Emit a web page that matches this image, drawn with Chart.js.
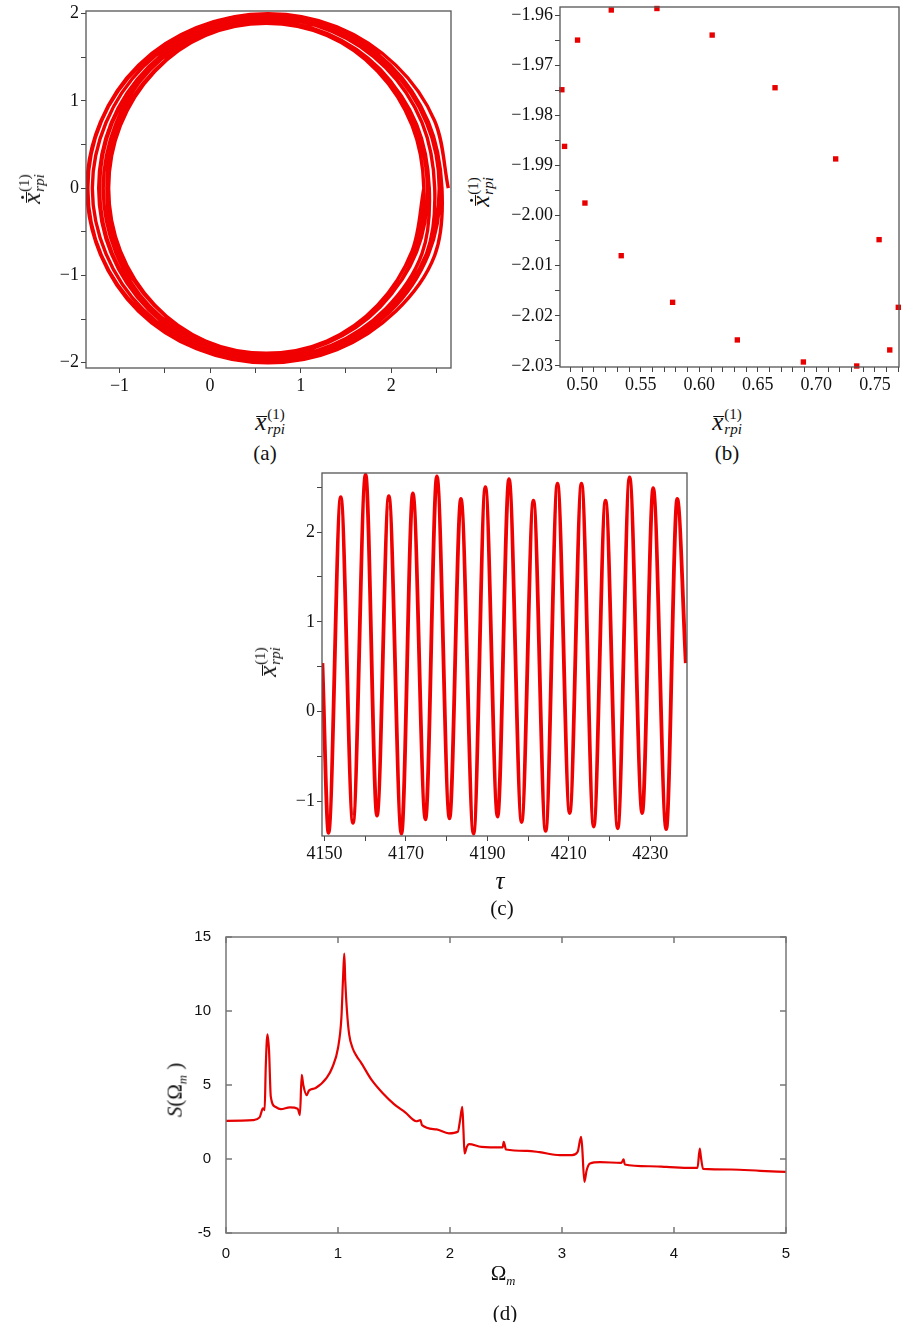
<!DOCTYPE html>
<html>
<head>
<meta charset="utf-8">
<script src="https://cdn.jsdelivr.net/npm/chart.js@4.4.1/dist/chart.umd.min.js"></script>
<style>
body { margin: 0; background: #fff; width: 903px; height: 1322px; position: relative; overflow: hidden;
       font-family: "Liberation Serif", serif; color: #111; }
canvas { position: absolute; }
.lbl { position: absolute; transform: translate(-50%, -50%); white-space: nowrap; line-height: 1; }
.rot { transform: translate(-50%, -50%) rotate(-90deg); }
.cap { font-size: 21px; }
.m { font-size: 25px; }
.ov { position: relative; display: inline-block; font-style: italic; }
.ov .bar { position: absolute; left: 0.04em; right: -0.02em; top: 0.3em; border-top: 1.5px solid #111; }
.ov .dot { position: absolute; left: 0.2em; top: 0.08em; width: 0.13em; height: 0.13em; border-radius: 50%; background: #111; }
.ss { display: inline-flex; flex-direction: column; font-size: 0.6em; vertical-align: 0.7em; line-height: 1; margin-left: 1px; }
.ss .d { font-style: italic; }
.sm { font-size: 21px; }
.sm sub { font-size: 0.6em; font-style: italic; }
</style>
</head>
<body>
<canvas id="chartA" width="424" height="400" style="left:36px;top:0px"></canvas>
<canvas id="chartB" width="403" height="400" style="left:500px;top:0px"></canvas>
<canvas id="chartC" width="420" height="410" style="left:280px;top:460px"></canvas>
<canvas id="chartD" width="610" height="340" style="left:190px;top:925px"></canvas>

<!-- axis titles -->
<div class="lbl rot m" style="left:32px;top:189px"><span class="ov">x<i class="bar"></i><i class="dot"></i></span><span class="ss"><span>(1)</span><span class="d">rpi</span></span></div>
<div class="lbl m" style="left:270px;top:422px"><span class="ov">x<i class="bar"></i></span><span class="ss"><span>(1)</span><span class="d">rpi</span></span></div>
<div class="lbl cap" style="left:265px;top:453px">(a)</div>

<div class="lbl rot m" style="left:481px;top:192px"><span class="ov">x<i class="bar"></i><i class="dot"></i></span><span class="ss"><span>(1)</span><span class="d">rpi</span></span></div>
<div class="lbl m" style="left:727px;top:422px"><span class="ov">x<i class="bar"></i></span><span class="ss"><span>(1)</span><span class="d">rpi</span></span></div>
<div class="lbl cap" style="left:727px;top:453px">(b)</div>

<div class="lbl rot m" style="left:268px;top:662px"><span class="ov">x<i class="bar"></i></span><span class="ss"><span>(1)</span><span class="d">rpi</span></span></div>
<div class="lbl m" style="left:500px;top:880px;font-style:italic">τ</div>
<div class="lbl cap" style="left:502px;top:908px">(c)</div>

<div class="lbl rot sm" style="left:177px;top:1090px"><i>S</i>(Ω<sub>m</sub> )</div>
<div class="lbl sm" style="left:503px;top:1275px">Ω<sub>m</sub></div>
<div class="lbl cap" style="left:505px;top:1313px">(d)</div>

<script>
// ---- (a) phase portrait: successive loops of the trajectory (shrinking), 16 points each
const loopX = [
  [2.63, 2.48, 2.05, 1.40, 0.64, -0.12, -0.77, -1.20, -1.35, -1.20, -0.77, -0.12, 0.64, 1.40, 2.05, 2.48],
  [2.56, 2.41, 1.99, 1.35, 0.60, -0.15, -0.79, -1.21, -1.36, -1.21, -0.79, -0.15, 0.60, 1.35, 1.99, 2.41],
  [2.54, 2.39, 1.98, 1.36, 0.62, -0.12, -0.74, -1.15, -1.30, -1.15, -0.74, -0.12, 0.62, 1.36, 1.98, 2.39],
  [2.53, 2.39, 1.98, 1.37, 0.65, -0.07, -0.68, -1.09, -1.23, -1.09, -0.68, -0.07, 0.65, 1.37, 1.98, 2.39],
  [2.48, 2.34, 1.94, 1.34, 0.63, -0.08, -0.68, -1.08, -1.22, -1.08, -0.68, -0.08, 0.63, 1.34, 1.94, 2.34],
  [2.42, 2.28, 1.89, 1.31, 0.63, -0.05, -0.62, -1.01, -1.14, -1.01, -0.62, -0.05, 0.63, 1.31, 1.89, 2.28],
  [2.40, 2.26, 1.88, 1.30, 0.61, -0.08, -0.66, -1.04, -1.18, -1.04, -0.66, -0.08, 0.61, 1.30, 1.88, 2.26],
  [2.36, 2.23, 1.85, 1.29, 0.62, -0.05, -0.61, -0.99, -1.12, -0.99, -0.61, -0.05, 0.62, 1.29, 1.85, 2.23]
];
const loopY = [
  [0, 0.77, 1.41, 1.85, 2.00, 1.85, 1.41, 0.77, 0, -0.77, -1.41, -1.85, -2.00, -1.85, -1.41, -0.77],
  [0, 0.76, 1.41, 1.84, 1.99, 1.84, 1.41, 0.76, 0, -0.76, -1.41, -1.84, -1.99, -1.84, -1.41, -0.76],
  [0, 0.75, 1.39, 1.82, 1.97, 1.82, 1.39, 0.75, 0, -0.75, -1.39, -1.82, -1.97, -1.82, -1.39, -0.75],
  [0, 0.75, 1.39, 1.81, 1.96, 1.81, 1.39, 0.75, 0, -0.75, -1.39, -1.81, -1.96, -1.81, -1.39, -0.75],
  [0, 0.75, 1.38, 1.80, 1.95, 1.80, 1.38, 0.75, 0, -0.75, -1.38, -1.80, -1.95, -1.80, -1.38, -0.75],
  [0, 0.73, 1.34, 1.76, 1.90, 1.76, 1.34, 0.73, 0, -0.73, -1.34, -1.76, -1.90, -1.76, -1.34, -0.73],
  [0, 0.74, 1.36, 1.77, 1.92, 1.77, 1.36, 0.74, 0, -0.74, -1.36, -1.77, -1.92, -1.77, -1.36, -0.74],
  [0, 0.72, 1.34, 1.75, 1.89, 1.75, 1.34, 0.72, 0, -0.72, -1.34, -1.75, -1.89, -1.75, -1.34, -0.72]
];
const aTicksX = [-1, -0.5, 0, 0.5, 1, 1.5, 2, 2.5];
const aLabelsX = [-1, 0, 1, 2];
const aTicksY = [-2, -1.5, -1, -0.5, 0, 0.5, 1, 1.5, 2];
const aLabelsY = [-2, -1, 0, 1, 2];

// ---- (b) Poincare section points
const poincareX = [0.4826, 0.4849, 0.4960, 0.5023, 0.5248, 0.5333, 0.5638, 0.5772, 0.6110,
                   0.6325, 0.6647, 0.6889, 0.7165, 0.7345, 0.7536, 0.7627, 0.7700];
const poincareY = [-1.9749, -1.9862, -1.9650, -1.9975, -1.9590, -2.0080, -1.9587, -2.0173, -1.9640,
                   -2.0248, -1.9745, -2.0292, -1.9887, -2.0300, -2.0048, -2.0268, -2.0183];
const bTicksX = [0.49, 0.50, 0.51, 0.52, 0.53, 0.54, 0.55, 0.56, 0.57, 0.58, 0.59, 0.60, 0.61, 0.62,
                 0.63, 0.64, 0.65, 0.66, 0.67, 0.68, 0.69, 0.70, 0.71, 0.72, 0.73, 0.74, 0.75, 0.76, 0.77];
const bLabelsX = [0.50, 0.55, 0.60, 0.65, 0.70, 0.75];
const bTicksY = [-2.030, -2.025, -2.020, -2.015, -2.010, -2.005, -2.000, -1.995, -1.990,
                 -1.985, -1.980, -1.975, -1.970, -1.965, -1.960];
const bLabelsY = [-2.03, -2.02, -2.01, -2.00, -1.99, -1.98, -1.97, -1.96];

// ---- (c) time history, extrema
const tau = [4149.5, 4151.0, 4154.0, 4157.0, 4160.1, 4162.9, 4165.8, 4168.9, 4171.7, 4174.8, 4177.6,
             4180.7, 4183.5, 4186.6, 4189.5, 4192.5, 4195.3, 4198.4, 4201.3, 4204.3, 4207.2, 4210.2,
             4213.1, 4216.1, 4219.0, 4222.0, 4224.9, 4228.0, 4230.7, 4233.9, 4236.6, 4238.7];
const xTau = [0.54, -1.35, 2.39, -1.24, 2.64, -1.16, 2.40, -1.36, 2.43, -1.20, 2.62,
              -1.19, 2.37, -1.36, 2.50, -1.17, 2.59, -1.23, 2.35, -1.33, 2.54, -1.13,
              2.54, -1.28, 2.35, -1.30, 2.61, -1.13, 2.49, -1.31, 2.37, 0.54];
const cTicksX = [4150, 4160, 4170, 4180, 4190, 4200, 4210, 4220, 4230];
const cLabelsX = [4150, 4170, 4190, 4210, 4230];
const cTicksY = [-1, -0.5, 0, 0.5, 1, 1.5, 2, 2.5];
const cLabelsY = [-1, 0, 1, 2];

// ---- (d) spectrum
const omega = [0, 0.24, 0.30, 0.33, 0.345, 0.355, 0.37, 0.384, 0.40, 0.44, 0.49, 0.57, 0.64, 0.66,
               0.676, 0.69, 0.72, 0.74, 0.80, 0.90, 0.95, 1.00, 1.03, 1.045, 1.056, 1.065, 1.08, 1.10,
               1.13, 1.17, 1.20, 1.30, 1.40, 1.50, 1.60, 1.70, 1.736, 1.75, 1.88, 1.99, 2.07, 2.09,
               2.11, 2.12, 2.13, 2.15, 2.17, 2.28, 2.47, 2.48, 2.50, 2.69, 2.80, 2.98, 3.09, 3.14,
               3.17, 3.18, 3.20, 3.22, 3.25, 3.34, 3.53, 3.55, 3.56, 3.78, 3.93, 4.15, 4.21, 4.23,
               4.24, 4.26, 4.51, 4.77, 5.0];
const spectrum = [2.58, 2.63, 2.81, 3.42, 3.3, 6.24, 8.43, 7.37, 4.21, 3.53, 3.37, 3.49, 3.40, 2.97,
                  5.68, 5.0, 4.32, 4.62, 4.80, 5.50, 6.20, 7.50, 9.50, 12.2, 13.87, 12.0, 10.0, 8.4,
                  7.5, 6.9, 6.58, 5.34, 4.44, 3.71, 3.15, 2.55, 2.63, 2.29, 2.0, 1.73, 1.84, 2.63,
                  3.53, 1.95, 0.37, 0.82, 1.0, 0.82, 0.78, 1.16, 0.64, 0.55, 0.46, 0.26, 0.26, 0.49,
                  1.5, 0.82, -1.55, -0.76, -0.3, -0.21, -0.26, -0.03, -0.37, -0.49, -0.53, -0.60, -0.60, 0.71,
                  0.15, -0.67, -0.71, -0.80, -0.87];
const dTicksX = [0, 1, 2, 3, 4, 5];
const dTicksY = [-5, 0, 5, 10, 15];

const RED = '#f00000';
const MINUS = '\u2212';

function pts(xs, ys) {
  return xs.map((x, i) => ({ x: x, y: ys[i] }));
}

// one continuous trajectory through all the loops, closed on the first point of the last loop
let trajectory = [];
loopX.forEach((xs, i) => { trajectory = trajectory.concat(pts(xs, loopY[i])); });
const lastLoop = loopX.length - 1;
trajectory.push({ x: loopX[lastLoop][0], y: loopY[lastLoop][0] });

// box round the plot area, plus optional inward ticks (matlab style)
const framePlugin = {
  id: 'frame',
  afterDatasetsDraw(chart, args, opts) {
    const ctx = chart.ctx;
    const a = chart.chartArea;
    ctx.save();
    ctx.strokeStyle = opts.color;
    ctx.lineWidth = opts.width;
    ctx.strokeRect(a.left, a.top, a.right - a.left, a.bottom - a.top);
    if (opts.inTicks) {
      const L = opts.inTicks;
      ctx.beginPath();
      chart.scales.x.ticks.forEach(t => {
        const px = chart.scales.x.getPixelForValue(t.value);
        ctx.moveTo(px, a.bottom); ctx.lineTo(px, a.bottom - L);
        ctx.moveTo(px, a.top); ctx.lineTo(px, a.top + L);
      });
      chart.scales.y.ticks.forEach(t => {
        const py = chart.scales.y.getPixelForValue(t.value);
        ctx.moveTo(a.left, py); ctx.lineTo(a.left + L, py);
        ctx.moveTo(a.right, py); ctx.lineTo(a.right - L, py);
      });
      ctx.stroke();
    }
    ctx.restore();
  }
};

function isIn(list, v) {
  return list.some(l => Math.abs(l - v) < 1e-9);
}

function axis(pos, min, max, tickVals, labelVals, fmt, size, maple) {
  return {
    type: 'linear',
    position: pos,
    min: min,
    max: max,
    afterBuildTicks: scale => { scale.ticks = tickVals.map(v => ({ value: v })); },
    afterFit: scale => {
      if (pos === 'left') { scale.width = size; scale.paddingTop = 0; scale.paddingBottom = 0; }
      else { scale.height = size; scale.paddingLeft = 0; scale.paddingRight = 0; }
    },
    grid: maple
      ? { display: true, drawOnChartArea: false, drawTicks: true, tickLength: 5, color: '#444', lineWidth: 1 }
      : { display: false },
    border: { display: false },
    ticks: {
      autoSkip: false,
      maxRotation: 0,
      padding: maple ? 2 : (pos === 'left' ? 7 : 4),
      color: '#111',
      font: maple ? { family: 'Liberation Serif', size: 18 } : { family: 'Liberation Sans', size: 15 },
      callback: v => isIn(labelVals, v) ? fmt(v) : ''
    }
  };
}

const fmtInt = v => (v < 0 ? MINUS : '') + Math.abs(v);
const fmt2 = v => (v < 0 ? MINUS : '') + Math.abs(v).toFixed(2);

function baseOptions(pad) {
  return {
    responsive: false,
    animation: false,
    devicePixelRatio: 1,
    layout: { padding: pad },
    plugins: { legend: { display: false }, tooltip: { enabled: false } }
  };
}

// (a)
const optA = baseOptions({ left: 0, right: 9, top: 11, bottom: 0 });
optA.scales = {
  x: axis('bottom', -1.37, 2.66, aTicksX, aLabelsX, fmtInt, 32, true),
  y: axis('left', -2.06, 2.03, aTicksY, aLabelsY, fmtInt, 50, true)
};
optA.plugins.frame = { color: '#555', width: 1.3 };
new Chart(document.getElementById('chartA'), {
  type: 'scatter',
  data: {
    datasets: [{
      data: trajectory,
      showLine: true,
      tension: 0.34,
      capBezierPoints: false,
      borderColor: RED,
      borderWidth: 3.4,
      pointRadius: 0
    }]
  },
  options: optA,
  plugins: [framePlugin]
});

// (b)
const optB = baseOptions({ left: 0, right: 2, top: 7, bottom: 0 });
optB.scales = {
  x: axis('bottom', 0.481, 0.7706, bTicksX, bLabelsX, fmt2, 33, true),
  y: axis('left', -2.0302, -1.9584, bTicksY, bLabelsY, fmt2, 60, true)
};
optB.plugins.frame = { color: '#555', width: 1.3 };
new Chart(document.getElementById('chartB'), {
  type: 'scatter',
  data: {
    datasets: [{
      data: pts(poincareX, poincareY),
      pointStyle: 'rect',
      pointRadius: 3.8,
      backgroundColor: '#e80000',
      borderColor: '#e80000',
      borderWidth: 0,
      clip: 2
    }]
  },
  options: optB,
  plugins: [framePlugin]
});

// (c)
const optC = baseOptions({ left: 0, right: 13, top: 13, bottom: 0 });
optC.scales = {
  x: axis('bottom', 4149.4, 4239.0, cTicksX, cLabelsX, v => String(v), 34, true),
  y: axis('left', -1.386, 2.658, cTicksY, cLabelsY, fmtInt, 42, true)
};
optC.plugins.frame = { color: '#555', width: 1.3 };
new Chart(document.getElementById('chartC'), {
  type: 'line',
  data: {
    datasets: [
      {
        data: pts(tau, xTau),
        cubicInterpolationMode: 'monotone',
        borderColor: RED,
        borderWidth: 3.8,
        pointRadius: 0
      },
      {
        data: pts(tau, xTau),
        cubicInterpolationMode: 'monotone',
        borderColor: '#3a0c0c',
        borderWidth: 1.5,
        borderDash: [8, 4],
        pointRadius: 0
      }
    ]
  },
  options: optC,
  plugins: [framePlugin]
});

// (d)
const optD = baseOptions({ left: 0, right: 14, top: 12, bottom: 0 });
optD.scales = {
  x: axis('bottom', 0, 5, dTicksX, dTicksX, v => String(v), 32, false),
  y: axis('left', -5, 15, dTicksY, dTicksY, v => String(v), 36, false)
};
optD.plugins.frame = { color: '#777', width: 1.5, inTicks: 6 };
new Chart(document.getElementById('chartD'), {
  type: 'line',
  data: {
    datasets: [{
      data: pts(omega, spectrum),
      cubicInterpolationMode: 'monotone',
      borderColor: '#e60000',
      borderWidth: 2.2,
      pointRadius: 0
    }]
  },
  options: optD,
  plugins: [framePlugin]
});
</script>
</body>
</html>
